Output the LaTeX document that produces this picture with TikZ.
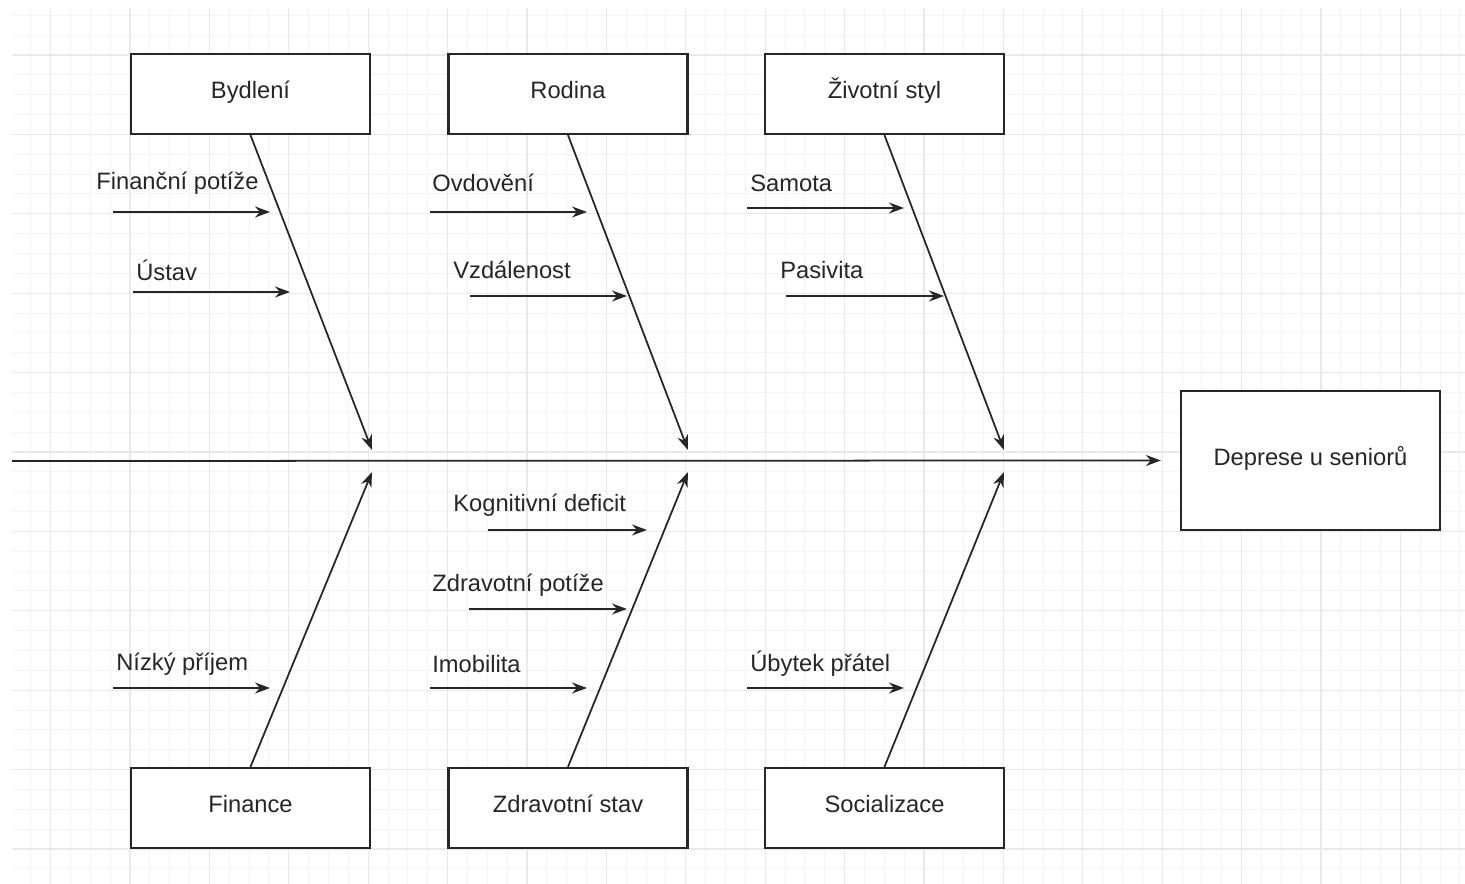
\documentclass[tikz,border=0pt]{standalone}
\usepackage{fontspec}
\setmainfont{Liberation Sans}
\usetikzlibrary{arrows.meta}
\definecolor{gridminor}{HTML}{F4F4F4}
\definecolor{gridmajor}{HTML}{E9E9E9}
\definecolor{inkgray}{HTML}{262626}
\tikzset{
  cause/.style={draw=inkgray, line width=1.3pt, fill=white, text=inkgray,
    minimum width=4.78cm, minimum height=1.6cm, inner sep=0pt,
    text height=0.72em, text depth=0.2em,
    font=\fontsize{13.5}{16}\selectfont},
  bone/.style={draw=inkgray, line width=1pt, -{Stealth[length=0.3cm,width=0.22cm]}},
  factor/.style={anchor=west, inner sep=0pt, text=inkgray,
    font=\fontsize{13.5}{16}\selectfont}
}
\begin{document}
\begin{tikzpicture}[x=0.02cm,y=-0.02cm]
\useasboundingbox (0,0) rectangle (1465,884);
\begin{scope}
\clip (12,8) rectangle (1465,884);
\foreach \i in {-6,...,67}
    \draw[gridminor, line width=0.6pt] ({130+19.85*\i},8) -- ({130+19.85*\i},884);
\foreach \j in {-2,...,42}
    \draw[gridminor, line width=0.6pt] (12,{55+19.85*\j}) -- (1465,{55+19.85*\j});
\foreach \i in {-1,...,17}
    \draw[gridmajor, line width=0.7pt] ({130+79.4*\i},8) -- ({130+79.4*\i},884);
\foreach \j in {0,...,10}
    \draw[gridmajor, line width=0.7pt] (12,{55+79.4*\j}) -- (1465,{55+79.4*\j});
\end{scope}
\node[cause, minimum width=5.18cm, minimum height=2.78cm] (deprese) at (1310.5,460.5) {Deprese u seniorů};
\coordinate (spine) at (12,461);
\draw[bone] (spine) -- ([xshift=-0.38cm]deprese.west);
\foreach \n/\txt/\x/\tx in {bydleni/Bydlení/250.5/372, rodina/Rodina/568/688, styl/Životní styl/884.5/1004}{
    \node[cause] (\n) at (\x,94) {\txt};
    \coordinate (\n-tip) at (\tx,450);
    \draw[bone] (\n.south) -- (\n-tip);
}
\foreach \n/\txt/\x/\tx in {finance/Finance/250.5/372, zdravi/Zdravotní stav/568/688, social/Socializace/884.5/1004}{
    \node[cause] (\n) at (\x,808) {\txt};
    \coordinate (\n-tip) at (\tx,472);
    \draw[bone] (\n.north) -- (\n-tip);
}
\foreach \n/\txt/\lx/\ly/\ax/\bx/\ay in {
    potize/Finanční potíže/96/183/113/270/212,
    ustav/Ústav/136/270/133/290/292,
    ovdoveni/Ovdovění/432/183/430/587/212,
    vzdalenost/Vzdálenost/453/270/470/627/296,
    samota/Samota/750/183/747/904/208,
    pasivita/Pasivita/780/270/786/944/296,
    deficit/Kognitivní deficit/453/505/488/647/530,
    zdrpotize/Zdravotní potíže/432/585/469/627/609,
    imobilita/Imobilita/432/664/430/587/688,
    prijem/Nízký příjem/116/664/113/270/688,
    pratele/Úbytek přátel/750/664/747/904/688}{
    \node[factor] (\n) at (\lx,\ly) {\txt};
    \coordinate (\n-a) at (\ax,\ay);
    \coordinate (\n-b) at (\bx,\ay);
    \draw[bone] (\n-a) -- (\n-b);
}
\end{tikzpicture}
\end{document}
